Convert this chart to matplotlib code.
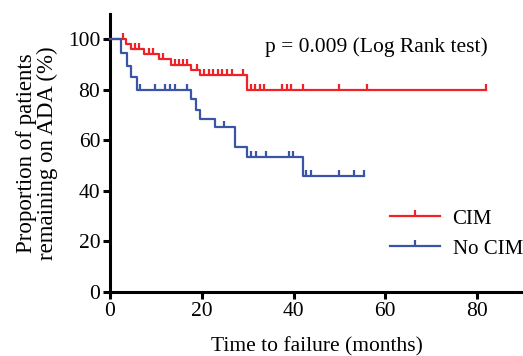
import numpy as np
import matplotlib
matplotlib.use("Agg")
import matplotlib.pyplot as plt
from matplotlib.path import Path
from matplotlib.lines import Line2D

plt.rcParams['font.family'] = ['Liberation Serif', 'DejaVu Serif']

# CIM group: event times (months) and survival (%) after each event
cim_times = [3.5, 4.6, 7.5, 10.7, 13.2, 17.7, 19.6, 29.8]
cim_surv = [98, 96, 94, 92, 90, 88, 86, 80]
cim_censor = [2.9, 5.4, 6.4, 8.6, 9.4, 11.6, 14.1, 15.1, 16.0, 16.8, 18.9,
              20.5, 21.5, 22.5, 23.5, 24.5, 25.5, 26.5, 29.0,
              30.8, 31.7, 32.6, 33.5, 37.5, 38.5, 39.5, 42.1, 50.0, 56.0, 82.0]
cim_end = 82.0

# No CIM group
nocim_times = [2.5, 3.6, 4.6, 5.8, 17.6, 18.7, 19.7, 22.9, 27.2, 29.8, 42.0]
nocim_surv = [94.5, 89.5, 85, 80, 76.5, 72, 68.6, 65.3, 57.5, 53.5, 45.8]
nocim_censor = [6.6, 9.8, 12.0, 13.1, 14.1, 16.8, 24.9,
                30.8, 31.9, 34.1, 39.0, 39.9,
                42.8, 43.7, 49.9, 53.1, 55.3]
nocim_end = 55.3

red = '#ee2227'
blue = '#3a55a6'
fs = 15.5

# censor mark: short vertical tick pointing up from the curve
tick = Path([(0, 0), (0, 1)], [Path.MOVETO, Path.LINETO])


def level_at(t, times, surv):
    s = 100.0
    for ti, si in zip(times, surv):
        if ti <= t:
            s = si
    return s


fig = plt.figure(figsize=(5.23, 3.56), dpi=100)
ax = fig.add_axes([110 / 523, 64 / 356, 413 / 523, 278 / 356])

for times, surv, cens, end, col in [
        (cim_times, cim_surv, cim_censor, cim_end, red),
        (nocim_times, nocim_surv, nocim_censor, nocim_end, blue)]:
    t = [0] + times + [end]
    s = [100] + surv + [surv[-1]]
    ax.step(t, s, where='post', color=col, lw=1.6, clip_on=False, zorder=3)
    cy = [level_at(c, times, surv) for c in cens]
    ax.plot(cens, cy, ls='none', marker=tick, ms=8, mew=1.6, mec=col,
            clip_on=False, zorder=3)

ax.set_xlim(0, 90)
ax.set_ylim(0, 110)
ax.set_xticks([0, 20, 40, 60, 80])
ax.set_yticks([0, 20, 40, 60, 80, 100])
for side in ['top', 'right']:
    ax.spines[side].set_visible(False)
for side in ['left', 'bottom']:
    ax.spines[side].set_linewidth(2.2)
ax.tick_params(width=2.2, length=5, labelsize=fs, pad=2)

ax.set_xlabel('Time to failure (months)', fontsize=fs, labelpad=12)
ax.set_ylabel('Proportion of patients\nremaining on ADA (%)', fontsize=16.5,
              labelpad=7, linespacing=1.0)

ax.text(33.7, 96.8, 'p = 0.009 (Log Rank test)', fontsize=fs,
        ha='left', va='center')

handles = [Line2D([], [], color=red, lw=1.6, marker=tick, ms=8, mew=1.6),
           Line2D([], [], color=blue, lw=1.6, marker=tick, ms=8, mew=1.6)]
ax.legend(handles, ['CIM', 'No CIM'], loc='center left',
          bbox_to_anchor=(0.678, 0.209), frameon=False, fontsize=15,
          borderpad=0, borderaxespad=0, handlelength=2.4,
          handletextpad=0.6, labelspacing=0.5, numpoints=1)

fig.savefig('out.png', dpi=100)
